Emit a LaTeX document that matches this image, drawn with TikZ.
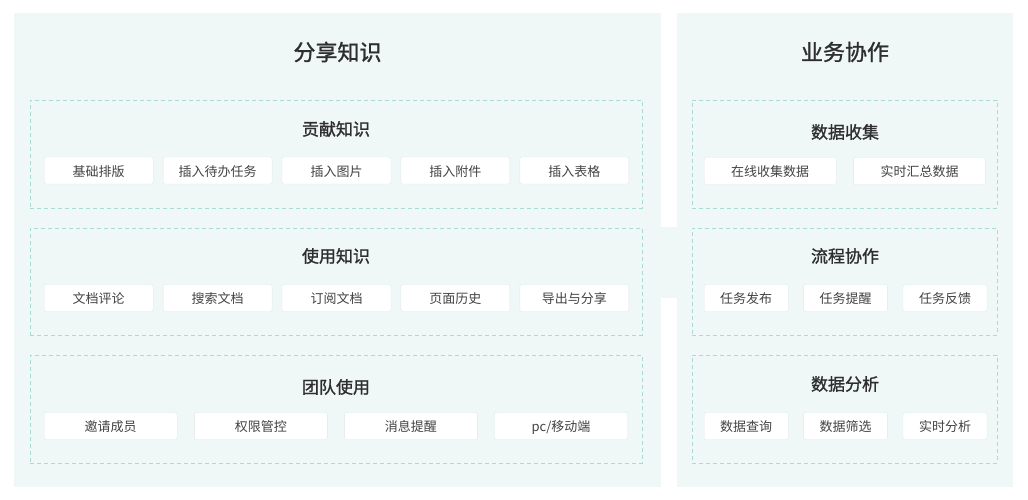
\documentclass[tikz,border=0pt]{standalone}
\usepackage{fontspec}
\setmainfont{Noto Sans CJK SC}
\newfontfamily\cjkmid[FakeBold=1.2]{Noto Sans CJK SC}
\usetikzlibrary{positioning}
\definecolor{panelbg}{HTML}{F0F7F7}
\definecolor{dashline}{HTML}{A8DCD3}
\definecolor{itemline}{HTML}{E2E8E8}
\definecolor{ink}{HTML}{2E2E2E}

\begin{document}
\begin{tikzpicture}[x=1pt,y=-1pt,
		panel/.style={fill=panelbg, inner sep=0, anchor=north west},
		group/.style={draw=dashline, dash pattern=on 4pt off 3pt, line width=0.8pt, inner sep=0, anchor=north west},
		item/.style={draw=itemline, fill=white, rounded corners=2pt, inner sep=0, minimum height=27pt, anchor=west, text height=12.6pt, text depth=1.2pt, text=ink!90, font=\fontsize{13}{15}\selectfont},
		head/.style={text=ink, font=\cjkmid\fontsize{22}{26}\selectfont},
		subhead/.style={text=ink, font=\cjkmid\fontsize{17}{20}\selectfont}]
		\fill[white] (0,0) rectangle (1028,500);
		\useasboundingbox (0,0) rectangle (1028,500);
		% two panels and the band between them
		\node (share) [panel, minimum width=647pt, minimum height=474pt] at (14,13) {};
		\node (biz) [panel, minimum width=336pt, minimum height=474pt] at (677,13) {};
		\fill[panelbg] (661,227) rectangle (677,298);
		\node (share-t) [head] at (337.5,52) {分享知识};
		\node (biz-t) [head] at (845,52) {业务协作};
		% left groups
		\node (contrib) [group, minimum width=612pt, minimum height=108pt] at (30,100) {};
		\node (contrib-t) [subhead] at (336,129) {贡献知识};
		\node (c1) [item, minimum width=109pt] at (44,170.5) {基础排版};
		\node (c2) [item, minimum width=109pt, right=9.5pt of c1] {插入待办任务};
		\node (c3) [item, minimum width=109pt, right=9.5pt of c2] {插入图片};
		\node (c4) [item, minimum width=109pt, right=9.5pt of c3] {插入附件};
		\node (c5) [item, minimum width=109pt, right=9.5pt of c4] {插入表格};
		\node (use) [group, minimum width=612pt, minimum height=107pt] at (30,228) {};
		\node (use-t) [subhead] at (336,256) {使用知识};
		\node (u1) [item, minimum width=109pt] at (44,298) {文档评论};
		\node (u2) [item, minimum width=109pt, right=9.5pt of u1] {搜索文档};
		\node (u3) [item, minimum width=109pt, right=9.5pt of u2] {订阅文档};
		\node (u4) [item, minimum width=109pt, right=9.5pt of u3] {页面历史};
		\node (u5) [item, minimum width=109pt, right=9.5pt of u4] {导出与分享};
		\node (team) [group, minimum width=612pt, minimum height=108pt] at (30,355) {};
		\node (team-t) [subhead] at (336,387) {团队使用};
		\node (t1) [item, minimum width=133pt] at (44,426) {邀请成员};
		\node (t2) [item, minimum width=133pt, right=16.7pt of t1] {权限管控};
		\node (t3) [item, minimum width=133pt, right=16.7pt of t2] {消息提醒};
		\node (t4) [item, minimum width=133pt, right=16.7pt of t3] {pc/移动端};
		% right groups
		\node (collect) [group, minimum width=305pt, minimum height=108pt] at (692,100) {};
		\node (collect-t) [subhead] at (845,132) {数据收集};
		\node (d1) [item, minimum width=132pt] at (704,171) {在线收集数据};
		\node (d2) [item, minimum width=132pt, right=17pt of d1] {实时汇总数据};
		\node (flow) [group, minimum width=305pt, minimum height=107pt] at (692,228) {};
		\node (flow-t) [subhead] at (845,256) {流程协作};
		\node (f1) [item, minimum width=84pt] at (704,298) {任务发布};
		\node (f2) [item, minimum width=84pt, right=15pt of f1] {任务提醒};
		\node (f3) [item, minimum width=84pt, right=15pt of f2] {任务反馈};
		\node (analyse) [group, minimum width=305pt, minimum height=108pt] at (692,355) {};
		\node (analyse-t) [subhead] at (845,384) {数据分析};
		\node (a1) [item, minimum width=84pt] at (704,426) {数据查询};
		\node (a2) [item, minimum width=84pt, right=15pt of a1] {数据筛选};
		\node (a3) [item, minimum width=84pt, right=15pt of a2] {实时分析};
\end{tikzpicture}
\end{document}
